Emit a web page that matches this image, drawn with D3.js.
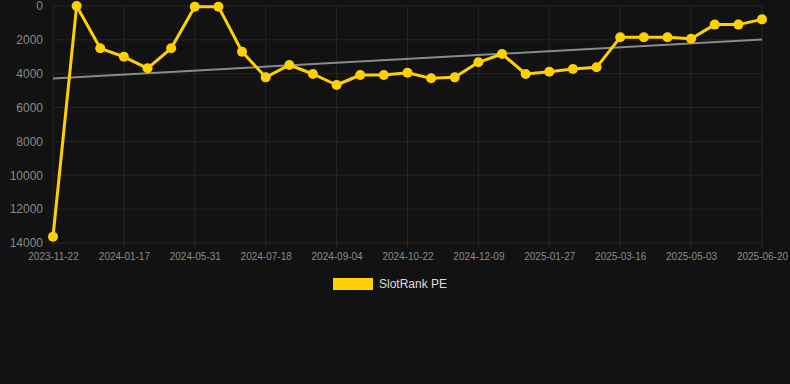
<!DOCTYPE html>
<html>
<head>
<meta charset="utf-8">
<script src="https://cdn.jsdelivr.net/npm/d3@7"></script>
<style>
    html, body { margin: 0; padding: 0; background: #121212; }
    svg { display: block; font-family: Arial, "Liberation Sans", sans-serif; }
</style>
</head>
<body>
<div id="chart"></div>
<script>
const dates = [
    "2023-11-22", "2023-12-11", "2023-12-29", "2024-01-17", "2024-02-28", "2024-04-14",
    "2024-05-31", "2024-06-16", "2024-07-02", "2024-07-18", "2024-08-03", "2024-08-19",
    "2024-09-04", "2024-09-20", "2024-10-06", "2024-10-22", "2024-11-07", "2024-11-23",
    "2024-12-09", "2024-12-25", "2025-01-11", "2025-01-27", "2025-02-12", "2025-02-28",
    "2025-03-16", "2025-04-01", "2025-04-17", "2025-05-03", "2025-05-19", "2025-06-04",
    "2025-06-20"
];
const rankValues = [
    13630, 1, 2500, 3000, 3680, 2500, 40, 40, 2700, 4215, 3485, 4017, 4667, 4076, 4076,
    3940, 4273, 4215, 3327, 2835, 4017, 3880, 3720, 3622, 1850, 1850, 1850, 1930, 1100,
    1100, 790
];
const yTicks = [0, 2000, 4000, 6000, 8000, 10000, 12000, 14000];
const seriesName = "SlotRank PE";

const width = 790, height = 384;
const margin = { top: 6, right: 28, bottom: 141, left: 53 };
const lineColor = "#ffd000";

const svg = d3.select("#chart").append("svg")
    .attr("width", width)
    .attr("height", height);

svg.append("rect").attr("width", width).attr("height", height).attr("fill", "#121212");

const x = d3.scalePoint()
    .domain(dates)
    .range([margin.left, width - margin.right]);

const y = d3.scaleLinear()
    .domain([0, 14000])
    .range([margin.top, height - margin.bottom]);

const shownDates = dates.filter((d, i) => i % 3 === 0);

// grid
svg.append("g")
    .selectAll("line")
    .data(yTicks)
    .enter().append("line")
    .attr("x1", margin.left).attr("x2", width - margin.right)
    .attr("y1", d => y(d)).attr("y2", d => y(d))
    .attr("stroke", "#262626").attr("stroke-width", 1);

svg.append("g")
    .selectAll("line")
    .data(shownDates)
    .enter().append("line")
    .attr("x1", d => x(d)).attr("x2", d => x(d))
    .attr("y1", margin.top).attr("y2", height - margin.bottom + 5)
    .attr("stroke", "#262626").attr("stroke-width", 1);

// axes
const yAxis = svg.append("g")
    .attr("transform", `translate(${margin.left - 10},0)`)
    .call(d3.axisLeft(y).tickValues(yTicks).tickSize(0).tickPadding(0).tickFormat(d3.format("d")));
yAxis.select(".domain").remove();
yAxis.selectAll("text").attr("fill", "#8a8a8a").style("font-size", "12px");

const xAxis = svg.append("g")
    .attr("transform", `translate(0,${height - margin.bottom})`)
    .call(d3.axisBottom(x).tickValues(shownDates).tickSize(0).tickPadding(10));
xAxis.select(".domain").remove();
xAxis.selectAll("text").attr("fill", "#8a8a8a").style("font-size", "10px");

// trend line (least squares)
const n = rankValues.length;
const meanX = d3.mean(rankValues, (d, i) => i);
const meanY = d3.mean(rankValues);
const slope = d3.sum(rankValues, (d, i) => (i - meanX) * (d - meanY)) /
    d3.sum(rankValues, (d, i) => (i - meanX) * (i - meanX));
const intercept = meanY - slope * meanX;

svg.append("line")
    .attr("x1", x(dates[0])).attr("y1", y(intercept))
    .attr("x2", x(dates[n - 1])).attr("y2", y(intercept + slope * (n - 1)))
    .attr("stroke", "#8a8a8a").attr("stroke-width", 2);

// series
const line = d3.line()
    .x((d, i) => x(dates[i]))
    .y(d => y(d));

svg.append("path")
    .datum(rankValues)
    .attr("d", line)
    .attr("fill", "none")
    .attr("stroke", lineColor)
    .attr("stroke-width", 3)
    .attr("stroke-linejoin", "round");

svg.append("g")
    .selectAll("circle")
    .data(rankValues)
    .enter().append("circle")
    .attr("cx", (d, i) => x(dates[i]))
    .attr("cy", d => y(d))
    .attr("r", 5)
    .attr("fill", lineColor);

// legend
const legend = svg.append("g").attr("transform", "translate(333,278)");
legend.append("rect").attr("width", 40).attr("height", 12).attr("fill", lineColor);
legend.append("text")
    .attr("x", 46).attr("y", 10)
    .attr("fill", "#dddddd")
    .style("font-size", "12px")
    .text(seriesName);
</script>
</body>
</html>
